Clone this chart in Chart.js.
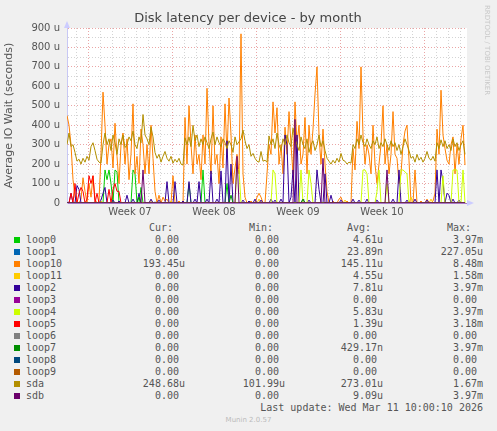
<!DOCTYPE html>
<html lang="en">
<head>
  <meta charset="UTF-8">
  <title>Disk latency per device - by month</title>
  <script src="https://cdn.jsdelivr.net/npm/chart.js"></script>
  <style>
    body { margin: 0; background: #f0f0f0; width: 497px; height: 431px; overflow: hidden; position: relative; font-family: "DejaVu Sans", sans-serif; }
    #chart-box { position: absolute; left: 0; top: 0; width: 497px; height: 220px; }
    #title { position: absolute; left: 0; width: 497px; top: 10px; text-align: center; font-size: 13px; color: #444; padding-left: 0; }
    #title span { position: absolute; left: 248px; transform: translateX(-50%); white-space: pre; }
    #rrd { position: absolute; left: 483px; top: 5px; writing-mode: vertical-rl; font-size: 7px; color: #c8c8c8; white-space: pre; }
    #legend { position: absolute; left: 0; top: 0; width: 497px; font-family: "DejaVu Sans Mono", monospace; font-size: 10px; color: #555; }
    .row { position: absolute; left: 0; width: 497px; height: 12px; line-height: 12px; }
    .sw { position: absolute; left: 14px; top: 3px; width: 6px; height: 6px; }
    .nm, .c { position: absolute; top: 0; white-space: pre; }
    .nm { left: 26px; }
    #munin { position: absolute; left: 0; width: 497px; top: 416px; text-align: center; font-size: 7px; line-height: 8px; color: #bbb; }
  </style>
</head>
<body>
  <div id="chart-box"><canvas id="myChart"></canvas></div>
  <div id="title"><span>Disk latency per device - by month</span></div>
  <div id="rrd">RRDTOOL / TOBI OETIKER</div>
  <div id="legend"></div>
  <div id="munin">Munin 2.0.57</div>
  <script>
// one sample every 4 hours, values in microseconds
const sampleHours = 4;
const weekLabels = ['Week 07', 'Week 08', 'Week 09', 'Week 10'];
const firstDayHour = 18;     // first midnight after the start of the graph
const firstWeekHour = 42;    // Monday of week 07
const yTicks = [0, 100, 200, 300, 400, 500, 600, 700, 800, 900];

const sda = [
  300,360,290,300,260,215,225,200,230,210,
  240,220,290,310,270,225,210,205,300,360,
  300,330,270,350,310,250,330,300,350,285,
  300,340,320,370,300,280,340,310,455,350,
  330,300,390,340,260,230,250,210,240,265,
  230,215,240,205,225,210,230,200,195,335,
  300,340,290,400,320,350,290,330,300,340,
  310,280,330,365,300,340,310,290,330,310,
  280,320,300,260,340,300,315,330,375,320,
  280,300,240,255,230,215,210,265,215,220,
  210,345,300,330,280,360,300,270,330,300,
  350,310,290,385,330,300,270,340,300,280,
  330,260,300,320,270,300,350,290,320,270,
  230,215,200,220,205,230,210,255,220,215,
  200,210,205,300,280,330,300,350,310,290,
  330,300,280,320,300,340,280,310,290,330,
  300,270,320,290,310,270,300,250,290,330,
  300,270,230,240,210,250,220,235,210,230,
  265,230,220,240,215,310,280,325,290,320,
  280,300,270,330,290,310,270,300,320,250
];

const loop10 = [
  450,400,300,120,30,0,0,20,130,60,
  0,100,30,140,20,0,10,250,570,400,
  200,300,330,180,410,240,100,300,360,200,
  330,120,250,510,150,240,100,380,300,150,
  300,150,400,230,60,0,40,0,30,10,
  20,0,0,140,0,0,10,0,0,440,
  200,500,300,150,350,200,250,120,350,200,
  590,300,150,500,200,250,100,340,180,510,
  250,540,350,100,180,250,150,870,150,30,
  0,0,10,0,0,30,50,30,0,0,
  150,300,250,520,360,490,200,300,150,390,
  250,470,300,150,520,300,400,200,250,440,
  150,400,250,380,560,700,350,200,380,200,
  60,0,0,10,0,0,20,30,0,0,
  10,0,0,280,170,420,280,700,350,200,
  300,250,150,400,200,100,200,300,500,200,
  300,150,250,470,250,230,100,150,300,370,
  400,220,0,0,170,0,0,10,0,0,
  20,0,0,10,50,380,250,580,350,280,
  220,200,300,340,150,300,200,330,400,195
];

// sparse devices: [sample index, value], zero everywhere else
const loop0Spikes = [[19,170],[20,120],[21,170],[22,100],[24,170],[25,160],[33,170],[34,150],[37,80],[61,100],[68,170],[80,100]];
const loop1Spikes = [[44,5]];
const loop11Spikes = [[17,10],[42,15],[52,10],[96,20],[139,15],[172,30],[182,20]];
const loop2Spikes = [[2,50],[5,90],[6,70],[17,15],[18,50],[19,80],[23,15],[26,10],[30,40],[33,20],[36,50],[42,20],[46,15],[50,110],[54,110],[58,10],[61,110],[64,20],[66,110],[70,20],[72,165],[75,20],[77,165],[80,320],[82,200],[88,15],[91,10],[94,20],[97,15],[102,20],[104,15],[107,20],[109,350],[110,300],[112,30],[113,170],[115,350],[118,20],[121,15],[125,170],[126,70],[129,150],[132,40],[137,15],[143,20],[146,15],[150,20],[155,15],[163,20],[166,170],[170,15],[174,20],[180,15],[185,170],[187,170],[188,110],[190,50],[191,40],[193,20],[196,15]];
const loop4Spikes = [[85,180],[86,170],[103,170],[104,150],[117,170],[121,170],[122,100],[148,170],[149,170],[150,150],[155,60],[156,170],[160,100],[167,170],[168,170],[169,160],[170,150],[188,140],[193,170],[194,170],[195,170],[198,170]];
const loop5Spikes = [[2,50],[4,100],[6,50],[7,80],[8,60],[10,20],[11,140],[12,100],[13,140],[15,50],[21,70],[23,70],[24,100],[25,60],[26,60]];
const loop7Spikes = [[36,30],[82,40],[118,20]];
const sdbSpikes = [[38,170],[85,240],[114,430],[128,230],[160,170]];
const noSpikes = [];

const devices = ['loop0','loop1','loop10','loop11','loop2','loop3','loop4','loop5','loop6','loop7','loop8','loop9','sda','sdb'];
const colors  = ['#00CC00','#0066B3','#FF8000','#FFCC00','#330099','#990099','#CCFF00','#FF0000','#808080','#008F00','#00487D','#B35A00','#B38F00','#6B006B'];
const legendCur = ['0.00','0.00','193.45u','0.00','0.00','0.00','0.00','0.00','0.00','0.00','0.00','0.00','248.68u','0.00'];
const legendMin = ['0.00','0.00','0.00','0.00','0.00','0.00','0.00','0.00','0.00','0.00','0.00','0.00','101.99u','0.00'];
const legendAvg = ['4.61u','23.89n','145.11u','4.55u','7.81u','0.00','5.83u','1.39u','0.00','429.17n','0.00','0.00','273.01u','9.09u'];
const legendMax = ['3.97m','227.05u','8.48m','1.58m','3.97m','0.00','3.97m','3.18m','0.00','3.97m','0.00','0.00','1.67m','3.97m'];

const n = sda.length;
function fromSpikes(spikes) {
  const out = new Array(n).fill(0);
  spikes.forEach(([i, v]) => { out[i] = v; });
  return out;
}
const values = {
  loop0: fromSpikes(loop0Spikes), loop1: fromSpikes(loop1Spikes), loop10: loop10,
  loop11: fromSpikes(loop11Spikes), loop2: fromSpikes(loop2Spikes), loop3: fromSpikes(noSpikes),
  loop4: fromSpikes(loop4Spikes), loop5: fromSpikes(loop5Spikes), loop6: fromSpikes(noSpikes),
  loop7: fromSpikes(loop7Spikes), loop8: fromSpikes(noSpikes), loop9: fromSpikes(noSpikes),
  sda: sda, sdb: fromSpikes(sdbSpikes)
};

const maxHour = n * sampleHours;
const weekMid = firstWeekHour + 84;
const xTicks = [];
for (let h = firstDayHour; h <= maxHour; h += 24) xTicks.push(h);
weekLabels.forEach((_, k) => xTicks.push(weekMid + k * 168));
xTicks.sort((a, b) => a - b);

// white plot area and the little rrd arrows
const frame = {
  id: 'frame',
  beforeDraw(chart) {
    const { ctx, chartArea: a } = chart;
    ctx.save();
    ctx.fillStyle = '#ffffff';
    ctx.fillRect(a.left, a.top, a.right - a.left, a.bottom - a.top);
    ctx.restore();
  },
  afterDraw(chart) {
    const { ctx, chartArea: a } = chart;
    ctx.save();
    ctx.fillStyle = '#ccccff';
    ctx.beginPath();
    ctx.moveTo(a.left - 3, a.top); ctx.lineTo(a.left + 3, a.top); ctx.lineTo(a.left, a.top - 7);
    ctx.closePath(); ctx.fill();
    ctx.beginPath();
    ctx.moveTo(a.right, a.bottom - 3); ctx.lineTo(a.right, a.bottom + 3); ctx.lineTo(a.right + 7, a.bottom);
    ctx.closePath(); ctx.fill();
    ctx.restore();
  }
};

const ctx = document.getElementById('myChart').getContext('2d');
new Chart(ctx, {
  type: 'line',
  data: {
    datasets: devices.map((name, k) => ({
      label: name,
      data: values[name].map((y, i) => ({ x: i * sampleHours, y })),
      borderColor: colors[k],
      borderWidth: 1,
      pointRadius: 0,
      tension: 0,
      fill: false,
      order: devices.length - k
    }))
  },
  plugins: [frame],
  options: {
    responsive: true,
    maintainAspectRatio: false,
    animation: false,
    layout: { padding: { left: 0, right: 30, top: 28, bottom: 0 } },
    plugins: { legend: { display: false }, tooltip: { enabled: false } },
    scales: {
      x: {
        type: 'linear',
        min: 0,
        max: maxHour,
        afterBuildTicks: s => { s.ticks = xTicks.map(v => ({ value: v })); },
        afterFit: s => { s.height = 17; },
        grid: {
          drawTicks: false,
          color: c => {
            const v = c.tick ? c.tick.value : -1;
            if ((v - firstWeekHour) % 168 === 0) return '#eaa5a5';
            if ((v - firstDayHour) % 24 === 0) return '#d4d4d4';
            return 'rgba(0,0,0,0)';
          }
        },
        border: { color: '#a878c8', width: 1, dash: [1, 2] },
        ticks: {
          autoSkip: false,
          maxRotation: 0,
          padding: 3,
          color: '#555',
          font: { family: 'DejaVu Sans', size: 10 },
          callback: v => {
            const k = (v - weekMid) / 168;
            return Number.isInteger(k) && weekLabels[k] ? weekLabels[k] : '';
          }
        }
      },
      y: {
        min: 0,
        max: 900,
        afterFit: s => { s.width = 67; },
        title: {
          display: true,
          text: 'Average IO Wait (seconds)',
          color: '#555',
          font: { family: 'DejaVu Sans', size: 11 },
          padding: { top: 3, bottom: 0 }
        },
        grid: {
          drawTicks: false,
          color: c => (yTicks.includes(c.tick.value) ? '#eaa5a5' : '#d4d4d4')
        },
        border: { color: '#c8c8f4', width: 1, dash: [1, 2] },
        ticks: {
          stepSize: 50,
          autoSkip: false,
          padding: 7,
          color: '#555',
          font: { family: 'DejaVu Sans', size: 10 },
          callback: v => (yTicks.includes(v) ? (v === 0 ? '0' : v + ' u') : '')
        }
      }
    }
  }
});

// text legend below the graph, rrdtool style
const legend = document.getElementById('legend');
const colRight = [185, 285, 383, 483];
function cell(text, right, top) {
  const s = document.createElement('span');
  s.className = 'c';
  s.textContent = text;
  s.style.right = (497 - right) + 'px';
  return s;
}
function addRow(top) {
  const r = document.createElement('div');
  r.className = 'row';
  r.style.top = top + 'px';
  legend.appendChild(r);
  return r;
}
const head = addRow(222);
['Cur:', 'Min:', 'Avg:', 'Max:'].forEach((h, j) => head.appendChild(cell(h, colRight[j] - 12)));
const pad = t => (/[a-z]$/.test(t) ? t : t + ' ');
devices.forEach((name, k) => {
  const r = addRow(234 + 12 * k);
  const sw = document.createElement('div');
  sw.className = 'sw';
  sw.style.background = colors[k];
  r.appendChild(sw);
  const nm = document.createElement('span');
  nm.className = 'nm';
  nm.textContent = name;
  r.appendChild(nm);
  [legendCur[k], legendMin[k], legendAvg[k], legendMax[k]].forEach((t, j) => r.appendChild(cell(pad(t), colRight[j])));
});
const last = addRow(402);
last.appendChild(cell('Last update: Wed Mar 11 10:00:10 2026', 483));
  </script>
</body>
</html>
